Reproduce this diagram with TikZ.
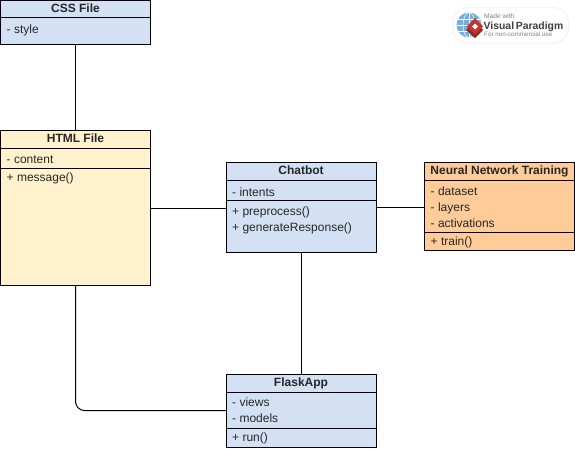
\documentclass[tikz,border=0pt]{standalone}
\usepackage{fontspec}
\setmainfont{Liberation Sans}
\definecolor{bluefill}{HTML}{D4E1F5}
\definecolor{yellowfill}{HTML}{FFF2CC}
\definecolor{orangefill}{HTML}{FFCC99}
\definecolor{globeblue}{HTML}{6FB0DE}
\definecolor{vpred}{HTML}{C8322B}
\tikzset{
  x=1pt,y=-1pt,
  umlbox/.style={draw=black,line width=1pt,anchor=north west,inner sep=0pt,outer sep=0pt},
  titletext/.style={font=\fontsize{12}{12}\selectfont\bfseries,anchor=base,inner sep=0pt,text=black!85},
  membertext/.style={font=\fontsize{12}{12}\selectfont,anchor=base west,inner sep=0pt,text=black!85},
  divider/.style={draw=black,line width=1pt},
  wire/.style={draw=black,line width=1pt},
}
\begin{document}
\begin{tikzpicture}
\useasboundingbox (0,0) rectangle (575,448);
% boxes
\node[umlbox,fill=bluefill,minimum width=150pt,minimum height=44pt] (css) at (0.5,0.5) {};
\node[umlbox,fill=yellowfill,minimum width=150pt,minimum height=155pt] (html) at (0.5,130.5) {};
\node[umlbox,fill=bluefill,minimum width=150pt,minimum height=90pt] (chat) at (226,162.5) {};
\node[umlbox,fill=orangefill,minimum width=150pt,minimum height=88pt] (nn) at (424.5,162.5) {};
\node[umlbox,fill=bluefill,minimum width=150pt,minimum height=73pt] (flask) at (226,374) {};
% dividers
\draw[divider] (0.5,17.5) -- (150.5,17.5);
\draw[divider] (0.5,148) -- (150.5,148);
\draw[divider] (0.5,168.5) -- (150.5,168.5);
\draw[divider] (226,180) -- (376,180);
\draw[divider] (226,200.5) -- (376,200.5);
\draw[divider] (424.5,180) -- (574.5,180);
\draw[divider] (424.5,232) -- (574.5,232);
\draw[divider] (226,392) -- (376,392);
\draw[divider] (226,428) -- (376,428);
% connectors
\draw[wire] (css.south) -- (html.north);
\draw[wire] (html.east) -- (html.east -| chat.west);
\draw[wire] (chat.east) -- (chat.east -| nn.west);
\draw[wire] (chat.south) -- (chat.south |- flask.north);
\draw[wire,rounded corners=9pt] (html.south) |- (flask.west);
% texts
\node[titletext] (csst) at (75.5,12) {CSS File};
\node[membertext] (css1) at (6.5,33) {- style};
\node[titletext] (htmlt) at (75.5,142) {HTML File};
\node[membertext] (html1) at (6.5,163) {- content};
\node[membertext] (html2) at (6.5,181.5) {+ message()};
\node[titletext] (chatt) at (301,174) {Chatbot};
\node[membertext] (chat1) at (232,196.5) {- intents};
\node[membertext] (chat2) at (232,215) {+ preprocess()};
\node[membertext] (chat3) at (232,231.5) {+ generateResponse()};
\node[titletext] (nnt) at (499.5,174) {Neural Network Training};
\node[membertext] (nn1) at (430.5,195) {- dataset};
\node[membertext] (nn2) at (430.5,211) {- layers};
\node[membertext] (nn3) at (430.5,227) {- activations};
\node[membertext] (nn4) at (430.5,245) {+ train()};
\node[titletext] (flaskt) at (301,386.5) {FlaskApp};
\node[membertext] (flask1) at (232,406.5) {- views};
\node[membertext] (flask2) at (232,422.5) {- models};
\node[membertext] (flask3) at (232,441.5) {+ run()};
% badge
\fill[black!4,rounded corners=17pt] (451.5,7) rectangle (569.5,44);
\fill[white,rounded corners=16pt] (453,8) rectangle (568,42.5);
\fill[globeblue] (469,25) circle (12.5pt);
\draw[white,line width=0.5pt] (469,12.5) -- (469,37.5) (456.5,25) -- (481.5,25) (458,19) -- (480,19) (458,31) -- (480,31);
\draw[white,line width=0.5pt] (469,25) ellipse (6pt and 12.5pt);
\fill[vpred!70!black] (475,21) -- (483,30) -- (475,38) -- (466,30) -- cycle;
\fill[vpred] (475,18) -- (483,26.5) -- (475,35) -- (466.5,26.5) -- cycle;
\fill[white] (475,23.5) -- (478,26.5) -- (475,29.5) -- (472,26.5) -- cycle;
\node[anchor=base west,inner sep=0pt,text=black!50,font=\fontsize{6.6}{7}\selectfont] (vp1) at (484,18) {Made with};
\node[anchor=base west,inner sep=0pt,text=black!75,font=\fontsize{10.4}{11}\selectfont\bfseries] (vp2) at (483.5,29) {Visual\,Paradigm};
\node[anchor=base west,inner sep=0pt,text=black!50,font=\fontsize{6.3}{7}\selectfont] (vp3) at (484,36.5) {For non-commercial use};
\end{tikzpicture}
\end{document}
